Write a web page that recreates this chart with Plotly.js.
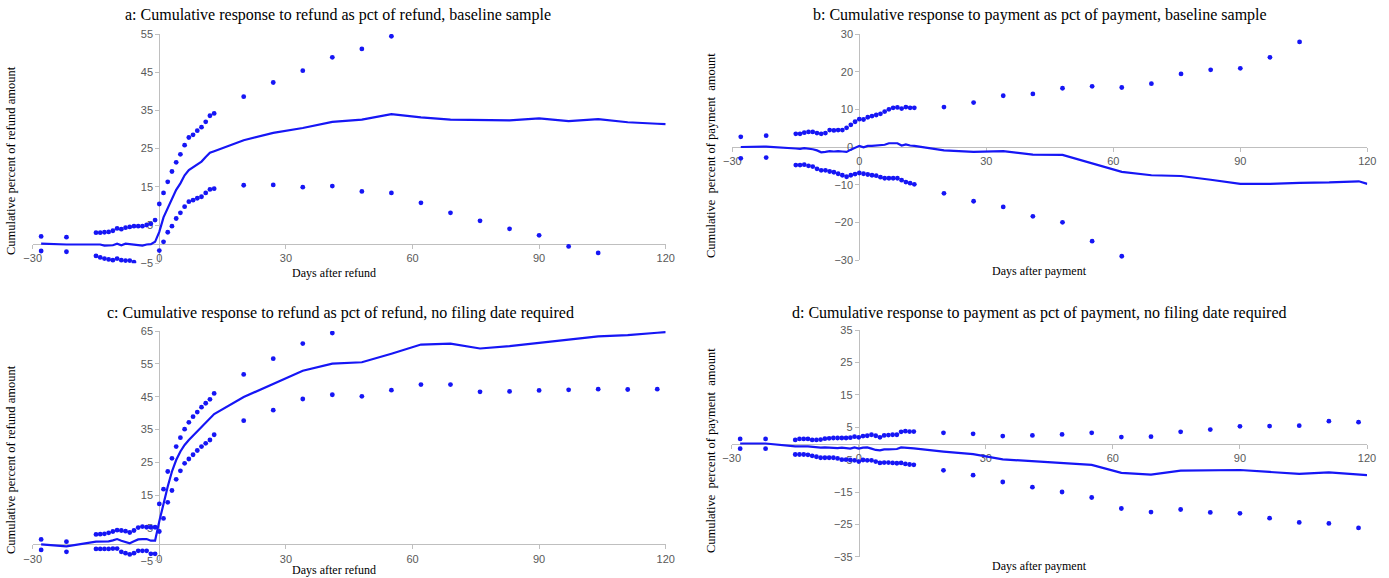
<!DOCTYPE html>
<html>
<head>
<meta charset="utf-8">
<script src="https://cdn.plot.ly/plotly-3.0.1.min.js"></script>
<style>
html,body{margin:0;padding:0;background:#fff;}
#chart{width:1389px;height:578px;}
</style>
</head>
<body>
<div id="chart"></div>
<script>
// ---------- DATA ----------
var daysDots = [-28, -22,
  -15, -14, -13, -12, -11, -10, -9, -8, -7, -6, -5, -4, -3, -2, -1,
  0, 1, 2, 3, 4, 5, 6, 7, 8, 9, 10, 11, 12, 13,
  20, 27, 34, 41, 48, 55, 62, 69, 76, 83, 90, 97, 104, 111, 118];
var daysLine = [-28, -22,
  -15, -14, -13, -12, -11, -10, -9, -8, -7, -6, -5, -4, -3, -2, -1,
  0, 1, 2, 3, 4, 5, 6, 7, 8, 9, 10, 11, 12, 13,
  20, 27, 34, 41, 48, 55, 62, 69, 76, 83, 90, 97, 104, 111, 118, 120];

// a: refund, baseline sample
var lineA = [0.1, -0.1,
  -0.1, -0.1, -0.4, -0.4, -0.3, 0.1, -0.3, 0.1, 0.0, -0.1, -0.2, -0.4, -0.1, 0.0, 0.6,
  3.2, 7.0, 9.5, 12.0, 14.2, 15.9, 18.0, 19.4, 20.2, 20.9, 21.6, 22.8, 23.9, 24.3,
  27.2, 29.1, 30.4, 32.0, 32.6, 34.0, 33.2, 32.6, 32.5, 32.4, 32.9, 32.2, 32.7, 31.9, 31.5, 31.4];
var upperA = [2.0, 1.8,
  3.0, 3.0, 3.1, 3.2, 3.5, 4.1, 3.9, 4.3, 4.5, 4.7, 4.7, 4.7, 5.0, 5.3, 6.3,
  10.5, 13.4, 16.3, 19.0, 21.4, 23.5, 25.9, 27.9, 28.6, 29.7, 30.6, 32.0, 33.6, 34.2,
  38.6, 42.3, 45.4, 48.9, 51.1, 54.4, null, null, null, null, null, null, null, null, null];
var lowerA = [-1.8, -2.0,
  -3.1, -3.5, -3.8, -4.0, -4.2, -3.8, -4.2, -4.3, -4.3, -4.7, null, null, null, null, null,
  -1.7, 0.6, 3.1, 4.7, 6.7, 8.2, 9.8, 11.1, 11.5, 12.0, 12.4, 13.4, 14.3, 14.5,
  15.4, 15.5, 14.9, 15.2, 13.8, 13.4, 10.8, 8.2, 6.1, 4.0, 2.3, -0.6, -2.3, null, null];

// b: payment, baseline sample
var lineB = [0.0, 0.1,
  -0.4, -0.5, -0.3, -0.4, -0.6, -0.9, -1.4, -1.3, -1.1, -1.2, -1.1, -1.2, -1.3, -0.7, -0.1,
  0.3, -0.1, 0.3, 0.3, 0.4, 0.4, 0.6, 1.0, 1.1, 1.0, 0.4, 0.7, 0.4, 0.3,
  -0.9, -1.3, -1.1, -2.0, -2.1, -4.3, -6.6, -7.5, -7.7, -8.7, -9.8, -9.8, -9.5, -9.4, -9.1, -9.8];
var upperB = [2.7, 3.0,
  3.5, 3.5, 3.8, 4.0, 4.0, 3.7, 3.5, 3.7, 4.5, 4.4, 4.5, 4.5, 5.1, 5.9, 6.7,
  7.4, 7.3, 7.9, 8.2, 8.5, 8.8, 9.4, 10.0, 10.4, 10.5, 10.2, 10.6, 10.4, 10.4,
  10.6, 11.8, 13.6, 14.1, 15.6, 16.1, 15.8, 16.8, 19.4, 20.5, 20.9, 23.8, 27.9, null, null];
var lowerB = [-3.0, -2.8,
  -4.8, -4.8, -4.7, -5.0, -5.2, -5.8, -6.2, -6.2, -6.5, -6.7, -7.1, -7.5, -7.9, -7.5, -7.2,
  -6.9, -7.1, -7.3, -7.5, -7.6, -8.0, -8.3, -8.3, -8.3, -8.3, -8.8, -9.3, -9.6, -9.9,
  -12.3, -14.4, -15.9, -18.4, -20.0, -25.0, -29.0, null, null, null, null, null, null, null, null];

// c: refund, no filing date required
var lineC = [0.0, -0.6,
  0.8, 0.8, 0.9, 0.9, 1.2, 1.6, 1.1, 0.7, 0.3, 0.9, 1.5, 1.6, 1.6, 1.1, 1.1,
  7.0, 12.5, 17.6, 22.2, 25.7, 28.3, 30.3, 31.8, 33.1, 34.3, 35.6, 36.9, 38.1, 39.7,
  44.9, 48.9, 52.9, 55.1, 55.5, 58.1, 60.9, 61.2, 59.7, 60.4, 61.5, 62.4, 63.4, 63.8, 64.5, 64.7];
var upperC = [1.5, 0.8,
  3.0, 3.1, 3.2, 3.5, 3.9, 4.3, 4.2, 4.0, 3.6, 4.2, 5.1, 5.4, 5.2, 5.2, 5.2,
  12.3, 16.8, 22.2, 26.2, 29.8, 32.5, 35.1, 37.2, 38.9, 40.3, 41.8, 43.0, 44.2, 46.0,
  51.8, 56.6, 61.2, 64.4, null, null, null, null, null, null, null, null, null, null, null];
var lowerC = [-1.7, -2.3,
  -1.4, -1.4, -1.4, -1.4, -1.3, -1.3, -2.3, -2.7, -3.1, -2.7, -2.0, -2.0, -2.0, -2.9, -2.9,
  3.9, 7.9, 12.8, 16.4, 19.8, 22.4, 24.7, 26.0, 27.3, 28.6, 29.8, 30.8, 31.8, 33.4,
  37.7, 40.9, 44.3, 45.6, 45.1, 47.0, 48.7, 48.7, 46.5, 46.6, 46.9, 47.1, 47.3, 47.2, 47.3];

// d: payment, no filing date required
var lineD = [0.0, 0.0,
  -0.9, -0.8, -0.9, -0.9, -1.1, -1.3, -1.3, -1.2, -1.3, -1.5, -1.4, -1.3, -1.5, -1.6, -1.2,
  -1.6, -1.3, -1.2, -1.6, -2.0, -2.1, -1.8, -1.8, -1.8, -1.7, -1.2, -1.3, -1.4, -1.5,
  -2.5, -3.3, -4.9, -5.5, -6.0, -6.6, -9.1, -9.6, -8.4, -8.4, -8.2, -8.8, -9.4, -8.9, -9.6, -9.8];
var upperD = [1.4, 1.4,
  1.1, 1.4, 1.4, 1.4, 1.1, 1.1, 1.2, 1.5, 1.6, 1.7, 1.7, 1.7, 1.7, 1.8, 2.1,
  1.9, 2.3, 2.4, 2.7, 2.4, 1.9, 2.5, 2.6, 2.7, 2.7, 3.6, 3.8, 3.7, 3.7,
  3.3, 3.0, 2.3, 2.5, 2.8, 3.3, 2.0, 2.1, 3.6, 4.3, 5.3, 5.4, 5.5, 6.9, 6.6];
var lowerD = [-1.6, -1.6,
  -3.4, -3.4, -3.4, -3.5, -3.8, -4.1, -4.4, -4.4, -4.4, -4.4, -4.6, -5.0, -5.0, -5.1, -5.2,
  -5.6, -5.1, -5.2, -5.2, -5.6, -6.0, -5.9, -5.9, -6.0, -6.1, -6.0, -6.3, -6.5, -6.6,
  -8.3, -9.8, -11.9, -13.5, -15.0, -16.7, -20.1, -21.2, -20.4, -21.3, -21.6, -23.1, -24.4, -24.7, -26.1];

// tick labels
var xTicks = [-30, 0, 30, 60, 90, 120];
var yTicksA = [-5, 5, 15, 25, 35, 45, 55];
var yTicksB = [-30, -20, -10, 0, 10, 20, 30];
var yTicksC = [-5, 5, 15, 25, 35, 45, 55, 65];
var yTicksD = [-35, -25, -15, -5, 5, 15, 25, 35];

// texts
var titles = [
  "a: Cumulative response to refund as pct of refund, baseline sample",
  "b: Cumulative response to payment as pct of payment, baseline sample",
  "c: Cumulative response to refund as pct of refund, no filing date required",
  "d: Cumulative response to payment as pct of payment, no filing date required"
];
var xTitles = ["Days after refund", "Days after payment", "Days after refund", "Days after payment"];
var yTitles = ["Cumulative percent of refund amount", "Cumulative  percent of payment  amount",
               "Cumulative percent of refund amount", "Cumulative  percent of payment  amount"];

// ---------- LAYOUT ----------
var W = 1389, H = 578;
var BLUE = 'rgb(22,22,245)';
var panels = [
  {line: lineA, up: upperA, lo: lowerA, yr: [-5, 55], yt: yTicksA, px: [32.7, 665.7], py: [34, 263.2],
   title: [338, 15], xt: [334, 273], ytl: [11, 161]},
  {line: lineB, up: upperB, lo: lowerB, yr: [-30, 30], yt: yTicksB, px: [732.3, 1367.3], py: [34, 260],
   title: [1040, 15], xt: [1039, 271], ytl: [711, 156]},
  {line: lineC, up: upperC, lo: lowerC, yr: [-5, 65], yt: yTicksC, px: [32.7, 665.7], py: [331.1, 560.7],
   title: [340, 313], xt: [334, 570], ytl: [11, 460]},
  {line: lineD, up: upperD, lo: lowerD, yr: [-35, 35], yt: yTicksD, px: [731.7, 1367], py: [330.3, 556.7],
   title: [1039, 313], xt: [1039, 566], ytl: [711, 451]}
];

var traces = [];
var layout = {
  width: W, height: H,
  margin: {l: 0, r: 0, t: 0, b: 0},
  paper_bgcolor: '#fff', plot_bgcolor: 'rgba(0,0,0,0)',
  showlegend: false,
  font: {family: 'Liberation Sans, Arial, sans-serif', size: 11, color: '#595959'},
  annotations: []
};

panels.forEach(function (p, i) {
  var n = i + 1;
  var xa = 'x' + (n === 1 ? '' : n), ya = 'y' + (n === 1 ? '' : n);
  var xk = 'xaxis' + (n === 1 ? '' : n), yk = 'yaxis' + (n === 1 ? '' : n);
  var xd = [p.px[0] / W, p.px[1] / W];
  var yd = [1 - p.py[1] / H, 1 - p.py[0] / H];
  var xr = [-30, 120];
  var yAxisPos = xd[0] + (0 - xr[0]) / (xr[1] - xr[0]) * (xd[1] - xd[0]);
  var xAxisPos = yd[0] + (0 - p.yr[0]) / (p.yr[1] - p.yr[0]) * (yd[1] - yd[0]);

  traces.push({x: daysLine, y: p.line, xaxis: xa, yaxis: ya, type: 'scatter', mode: 'lines',
    line: {color: BLUE, width: 2.2}, hoverinfo: 'skip'});
  traces.push({x: daysDots, y: p.up, xaxis: xa, yaxis: ya, type: 'scatter', mode: 'markers',
    marker: {color: BLUE, size: 4.8}, hoverinfo: 'skip'});
  traces.push({x: daysDots, y: p.lo, xaxis: xa, yaxis: ya, type: 'scatter', mode: 'markers',
    marker: {color: BLUE, size: 4.8}, hoverinfo: 'skip'});

  layout[xk] = {domain: xd, range: xr, anchor: 'free', position: xAxisPos, side: 'bottom',
    tickmode: 'array', tickvals: xTicks, ticks: 'outside', ticklen: 4, tickcolor: '#bfbfbf',
    showline: true, linecolor: '#bfbfbf', linewidth: 1, showgrid: false, zeroline: false,
    automargin: false, layer: 'below traces', fixedrange: true,
    tickfont: {family: 'Liberation Sans, Arial, sans-serif', size: 11, color: '#595959'}};
  layout[yk] = {domain: yd, range: p.yr, anchor: 'free', position: yAxisPos, side: 'left',
    tickmode: 'array', tickvals: p.yt, ticks: 'outside', ticklen: 4, tickcolor: '#bfbfbf',
    showline: true, linecolor: '#bfbfbf', linewidth: 1, showgrid: false, zeroline: false,
    automargin: false, layer: 'below traces', fixedrange: true,
    tickfont: {family: 'Liberation Sans, Arial, sans-serif', size: 11, color: '#595959'}};

  layout.annotations.push({text: titles[i], xref: 'paper', yref: 'paper',
    x: p.title[0] / W, y: 1 - p.title[1] / H, xanchor: 'center', yanchor: 'middle', showarrow: false,
    font: {family: 'Liberation Serif, Times New Roman, serif', size: 16, color: '#000'}});
  layout.annotations.push({text: xTitles[i], xref: 'paper', yref: 'paper',
    x: p.xt[0] / W, y: 1 - p.xt[1] / H, xanchor: 'center', yanchor: 'middle', showarrow: false,
    font: {family: 'Liberation Serif, Times New Roman, serif', size: 12, color: '#000'}});
  layout.annotations.push({text: yTitles[i], xref: 'paper', yref: 'paper', textangle: -90,
    x: p.ytl[0] / W, y: 1 - p.ytl[1] / H, xanchor: 'center', yanchor: 'middle', showarrow: false,
    font: {family: 'Liberation Serif, Times New Roman, serif', size: 12.5, color: '#000'}});
});

Plotly.newPlot('chart', traces, layout, {displayModeBar: false, staticPlot: true});
</script>
</body>
</html>
